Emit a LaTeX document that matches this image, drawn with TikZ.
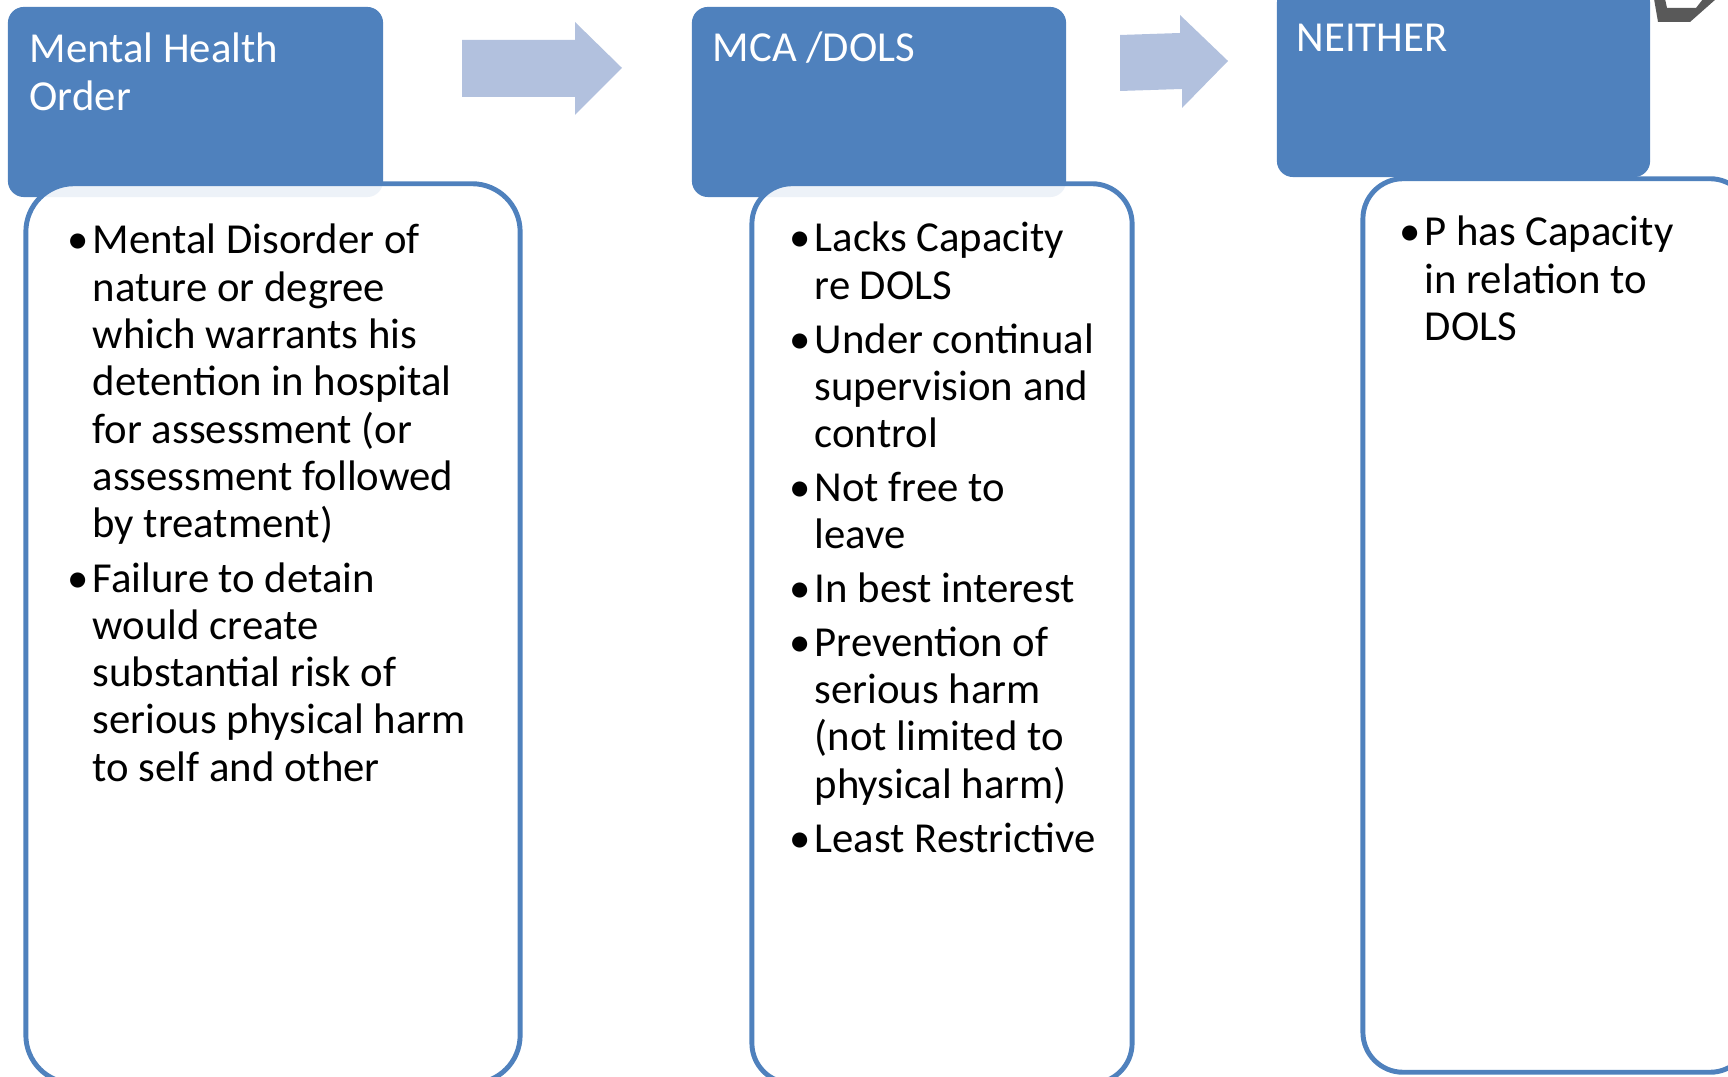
\documentclass[tikz,border=0pt]{standalone}
\usepackage{fontspec}
\setmainfont{Carlito}
\usepackage{xcolor}
\usepackage{tikz}

\definecolor{hdrblue}{HTML}{4F81BD}
\definecolor{arrowblue}{HTML}{B2C1DE}
\definecolor{curlgray}{HTML}{595959}

\newcommand{\bul}{\makebox[0.25cm][l]{\textbullet}}

\tikzset{
  hdrbox/.style={rectangle, fill=hdrblue, rounded corners=0.16cm, minimum height=1.9cm, inner sep=0},
  bodybox/.style={rectangle, draw=hdrblue, line width=1.4pt, fill=white, fill opacity=0.9, inner sep=0},
  hdrtxt/.style={anchor=base west, inner sep=0, text=white, font=\fontsize{12.15}{13.5}\selectfont},
  bodytxt/.style={anchor=base west, inner sep=0, font=\fontsize{12.15}{13.45}\selectfont}
}

\begin{document}
\begin{tikzpicture}[x=0.01cm, y=-0.01cm]
\useasboundingbox (0,0) rectangle (1728,1077);
\clip (0,0) rectangle (1728,1077);

% arrows between the columns
\fill[arrowblue] (462,40) -- (575,40) -- (575,22) -- (622,68) -- (575,115) -- (575,97) -- (462,97) -- cycle;
\fill[arrowblue] (1120,35) -- (1180,33) -- (1180,15) -- (1228,61) -- (1182,108) -- (1182,89) -- (1120,91) -- cycle;
\fill[curlgray] (1654,-1) -- (1658,22) -- (1690,22) -- (1716,-1) -- (1703,-1) -- (1696,8) -- (1667,8) -- (1665,-1) -- cycle;

% column 1
\node[hdrbox, minimum width=3.75cm] (mhoHead) at (195.5,102) {};
\node[bodybox, minimum width=4.94cm, minimum height=8.99cm, rounded corners=0.48cm] (mhoBody) at (273,633.5) {};
\node[hdrtxt] (mhoTitle) at (29,63) {\begin{tabular}[t]{@{}l@{}}Mental Health\\Order\end{tabular}};
\node[bodytxt] (mhoText) at (67,254) {\begin{tabular}[t]{@{}l@{}l@{}}
\bul & Mental Disorder of\\
 & nature or degree\\
 & which warrants his\\
 & detention in hospital\\
 & for assessment (or\\
 & assessment followed\\
 & by treatment)\\[0.07cm]
\bul & Failure to detain\\
 & would create\\
 & substantial risk of\\
 & serious physical harm\\
 & to self and other
\end{tabular}};

% column 2
\node[hdrbox, minimum width=3.74cm] (mcaHead) at (879,102) {};
\node[bodybox, minimum width=3.8cm, minimum height=8.99cm, rounded corners=0.4cm] (mcaBody) at (942,633.5) {};
\node[hdrtxt] (mcaTitle) at (712,62) {MCA /DOLS};
\node[bodytxt] (mcaText) at (789,252) {\begin{tabular}[t]{@{}l@{}l@{}}
\bul & Lacks Capacity\\
 & re DOLS\\[0.065cm]
\bul & Under continual\\
 & supervision and\\
 & control\\[0.065cm]
\bul & Not free to\\
 & leave\\[0.065cm]
\bul & In best interest\\[0.065cm]
\bul & Prevention of\\
 & serious harm\\
 & (not limited to\\
 & physical harm)\\[0.065cm]
\bul & Least Restrictive
\end{tabular}};

% column 3
\node[hdrbox, minimum width=3.73cm] (neiHead) at (1463.5,82) {};
\node[bodybox, minimum width=3.87cm, minimum height=8.93cm, rounded corners=0.4cm] (neiBody) at (1556.5,625.5) {};
\node[hdrtxt] (neiTitle) at (1296,52) {NEITHER};
\node[bodytxt] (neiText) at (1399,246) {\begin{tabular}[t]{@{}l@{}l@{}}
\bul & P has Capacity\\
 & in relation to\\
 & DOLS
\end{tabular}};
\end{tikzpicture}
\end{document}
